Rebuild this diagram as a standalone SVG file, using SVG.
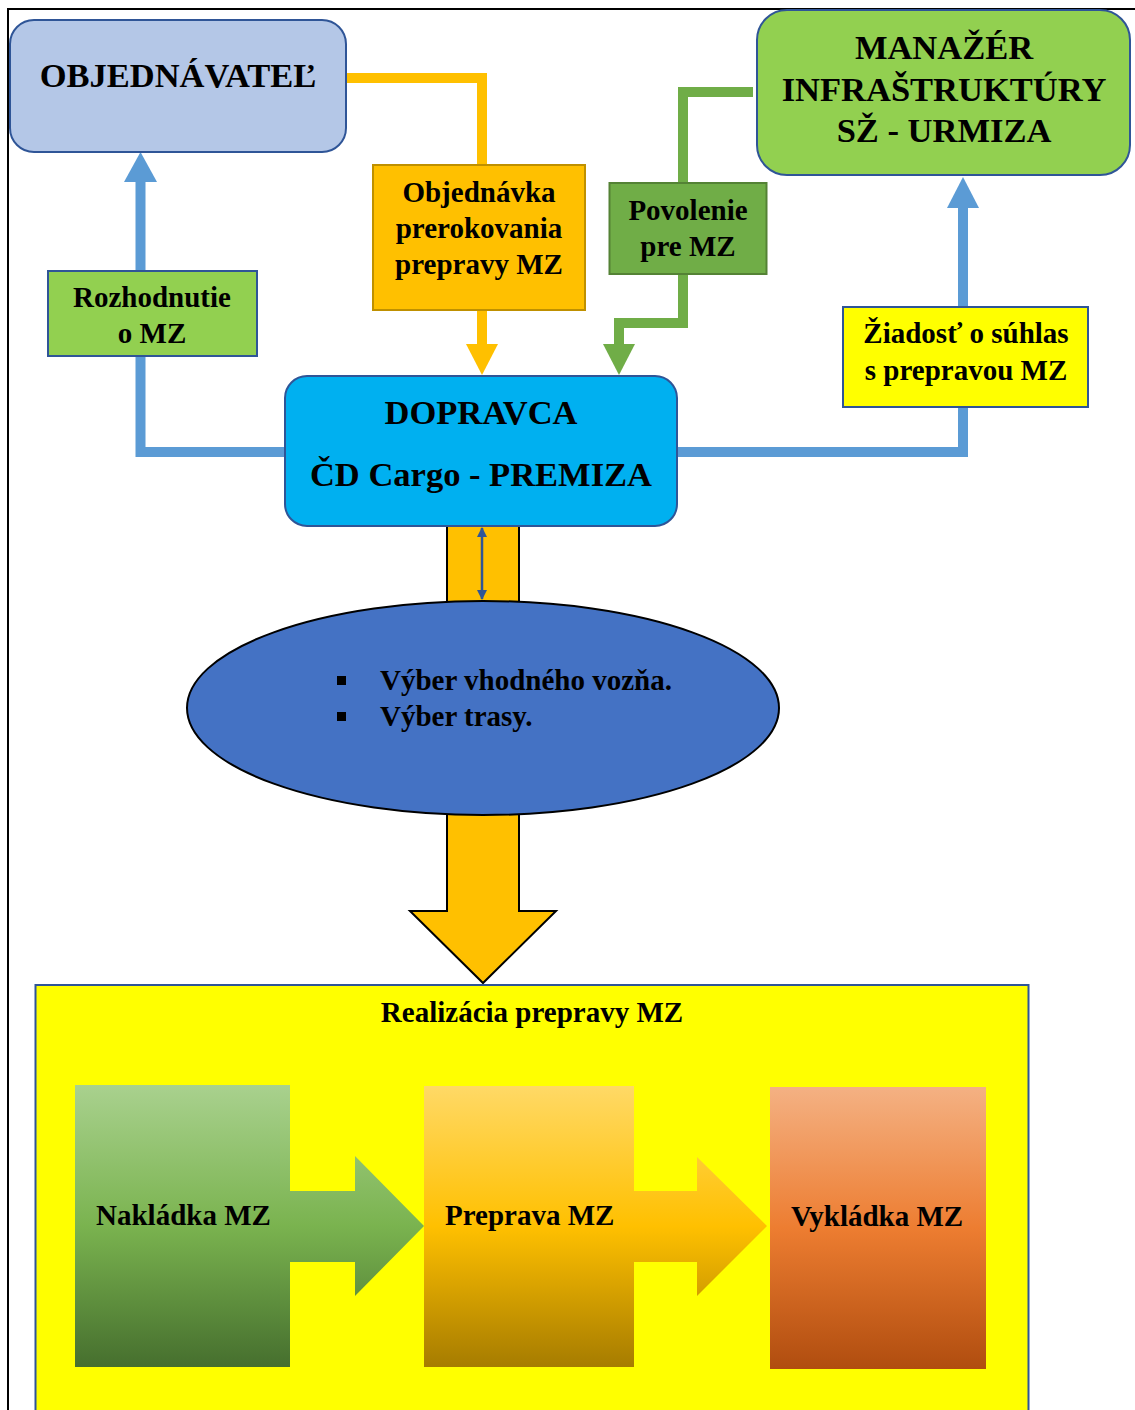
<svg xmlns="http://www.w3.org/2000/svg" width="1135" height="1410" viewBox="0 0 1135 1410">
<defs>
<style>
.t{font-family:"Liberation Serif","Times New Roman",serif;font-weight:bold;fill:#000}
.big{font-size:34.5px}
.sm{font-size:29px}
.c{text-anchor:middle}
</style>
<linearGradient id="gG" gradientUnits="userSpaceOnUse" x1="0" y1="1085" x2="0" y2="1367">
<stop offset="0" stop-color="#A9D18E"/><stop offset="0.5" stop-color="#7AB34F"/><stop offset="1" stop-color="#466F2E"/>
</linearGradient>
<linearGradient id="gO" gradientUnits="userSpaceOnUse" x1="0" y1="1086" x2="0" y2="1367">
<stop offset="0" stop-color="#FFD966"/><stop offset="0.5" stop-color="#FFC000"/><stop offset="1" stop-color="#A67C00"/>
</linearGradient>
<linearGradient id="gR" gradientUnits="userSpaceOnUse" x1="0" y1="1087" x2="0" y2="1369">
<stop offset="0" stop-color="#F4B183"/><stop offset="0.5" stop-color="#ED7D31"/><stop offset="1" stop-color="#B04D0F"/>
</linearGradient>
<marker id="da" viewBox="0 0 10 10" refX="9" refY="5" markerWidth="4" markerHeight="4" orient="auto-start-reverse">
<path d="M0,0 L10,5 L0,10 z" fill="#2F5597"/>
</marker>
</defs>
<!-- outer frame -->
<path d="M8,1410 V9 H1135" fill="none" stroke="#000" stroke-width="2"/>

<g id="connectors">
<!-- orange: OBJEDNAVATEL -> Objednavka -> DOPRAVCA -->
<path d="M346,78 H482 V165" fill="none" stroke="#FFC000" stroke-width="10"/>
<path d="M482,310 V346" fill="none" stroke="#FFC000" stroke-width="10"/>
<polygon points="466,344 498,344 482,375" fill="#FFC000"/>
<!-- green: MANAZER -> Povolenie -> DOPRAVCA -->
<path d="M753,92 H683 V183" fill="none" stroke="#70AD47" stroke-width="10"/>
<path d="M683,274 V323 H619 V346" fill="none" stroke="#70AD47" stroke-width="10"/>
<polygon points="603,344 635,344 619,375" fill="#70AD47"/>
<!-- blue left: DOPRAVCA -> Rozhodnutie -> OBJEDNAVATEL -->
<path d="M285,452 H140.5 V356" fill="none" stroke="#5B9BD5" stroke-width="10"/>
<path d="M140.5,271 V180" fill="none" stroke="#5B9BD5" stroke-width="10"/>
<polygon points="124,182 157,182 140.5,152" fill="#5B9BD5"/>
<!-- blue right: DOPRAVCA -> Ziadost -> MANAZER -->
<path d="M677,452 H963 V407" fill="none" stroke="#5B9BD5" stroke-width="10"/>
<path d="M963,307 V206" fill="none" stroke="#5B9BD5" stroke-width="10"/>
<polygon points="947,208 979,208 963,177" fill="#5B9BD5"/>
<!-- stem between DOPRAVCA and ellipse -->
<rect x="447" y="525" width="72" height="78" fill="#FFC000" stroke="#000" stroke-width="2"/>
<line x1="482" y1="528" x2="482" y2="599" stroke="#2F5597" stroke-width="2.5" marker-start="url(#da)" marker-end="url(#da)"/>
<!-- big down arrow -->
<polygon points="447,812 519,812 519,911 556,911 483,983 410,911 447,911" fill="#FFC000" stroke="#000" stroke-width="2"/>
</g>

<g id="objednavatel">
<rect x="10" y="20" width="336" height="132" rx="24" fill="#B4C7E7" stroke="#2F5597" stroke-width="2"/>
<text class="t big c" x="178" y="87">OBJEDNÁVATEĽ</text>
</g>

<g id="objednavka">
<rect x="373" y="165" width="212" height="145" fill="#FFC000" stroke="#BF9000" stroke-width="2"/>
<text class="t sm c" x="479" y="202">Objednávka</text>
<text class="t sm c" x="479" y="238">prerokovania</text>
<text class="t sm c" x="479" y="274">prepravy MZ</text>
</g>

<g id="manazer">
<rect x="757" y="10" width="373" height="165" rx="30" fill="#92D050" stroke="#2F5597" stroke-width="2"/>
<text class="t big c" x="944" y="59">MANAŽÉR</text>
<text class="t big c" x="944" y="101">INFRAŠTRUKTÚRY</text>
<text class="t big c" x="944" y="142">SŽ - URMIZA</text>
</g>

<g id="povolenie">
<rect x="609.5" y="183" width="157" height="91" fill="#70AD47" stroke="#548235" stroke-width="2"/>
<text class="t sm c" x="688" y="220">Povolenie</text>
<text class="t sm c" x="688" y="256">pre MZ</text>
</g>

<g id="rozhodnutie">
<rect x="48" y="271" width="209" height="85" fill="#92D050" stroke="#2F5597" stroke-width="2"/>
<text class="t sm c" x="152" y="307">Rozhodnutie</text>
<text class="t sm c" x="152" y="343">o MZ</text>
</g>

<g id="ziadost">
<rect x="843" y="307" width="245" height="100" fill="#FFFF00" stroke="#2F5597" stroke-width="2"/>
<text class="t sm c" x="966" y="343">Žiadosť o súhlas</text>
<text class="t sm c" x="966" y="380">s prepravou MZ</text>
</g>

<g id="dopravca">
<rect x="285" y="376" width="392" height="150" rx="22" fill="#00B0F0" stroke="#2F5597" stroke-width="2"/>
<text class="t big c" x="481" y="424">DOPRAVCA</text>
<text class="t big c" x="481" y="486">ČD Cargo - PREMIZA</text>
</g>

<g id="vyber">
<ellipse cx="483" cy="708" rx="296" ry="107" fill="#4472C4" stroke="#000" stroke-width="2"/>
<rect x="337" y="676" width="9" height="9" fill="#000"/>
<rect x="337" y="712" width="9" height="9" fill="#000"/>
<text class="t sm" x="380" y="690">Výber vhodného vozňa.</text>
<text class="t sm" x="380" y="726">Výber trasy.</text>
</g>

<g id="realizacia">
<rect x="35.5" y="985" width="993" height="430" fill="#FFFF00" stroke="#2F5597" stroke-width="2"/>
<text class="t sm c" x="532" y="1022">Realizácia prepravy MZ</text>
</g>

<g id="nakladka">
<polygon points="75,1085 290,1085 290,1191 355,1191 355,1156 424,1226 355,1296 355,1262 290,1262 290,1367 75,1367" fill="url(#gG)"/>
<text class="t sm" x="96" y="1225">Nakládka MZ</text>
</g>

<g id="preprava">
<polygon points="424,1086 634,1086 634,1191 697,1191 697,1157 767,1226 697,1296 697,1262 634,1262 634,1367 424,1367" fill="url(#gO)"/>
<text class="t sm" x="445" y="1225">Preprava MZ</text>
</g>

<g id="vykladka">
<rect x="770" y="1087" width="216" height="282" fill="url(#gR)"/>
<text class="t sm" x="791" y="1226">Vykládka MZ</text>
</g>
</svg>
